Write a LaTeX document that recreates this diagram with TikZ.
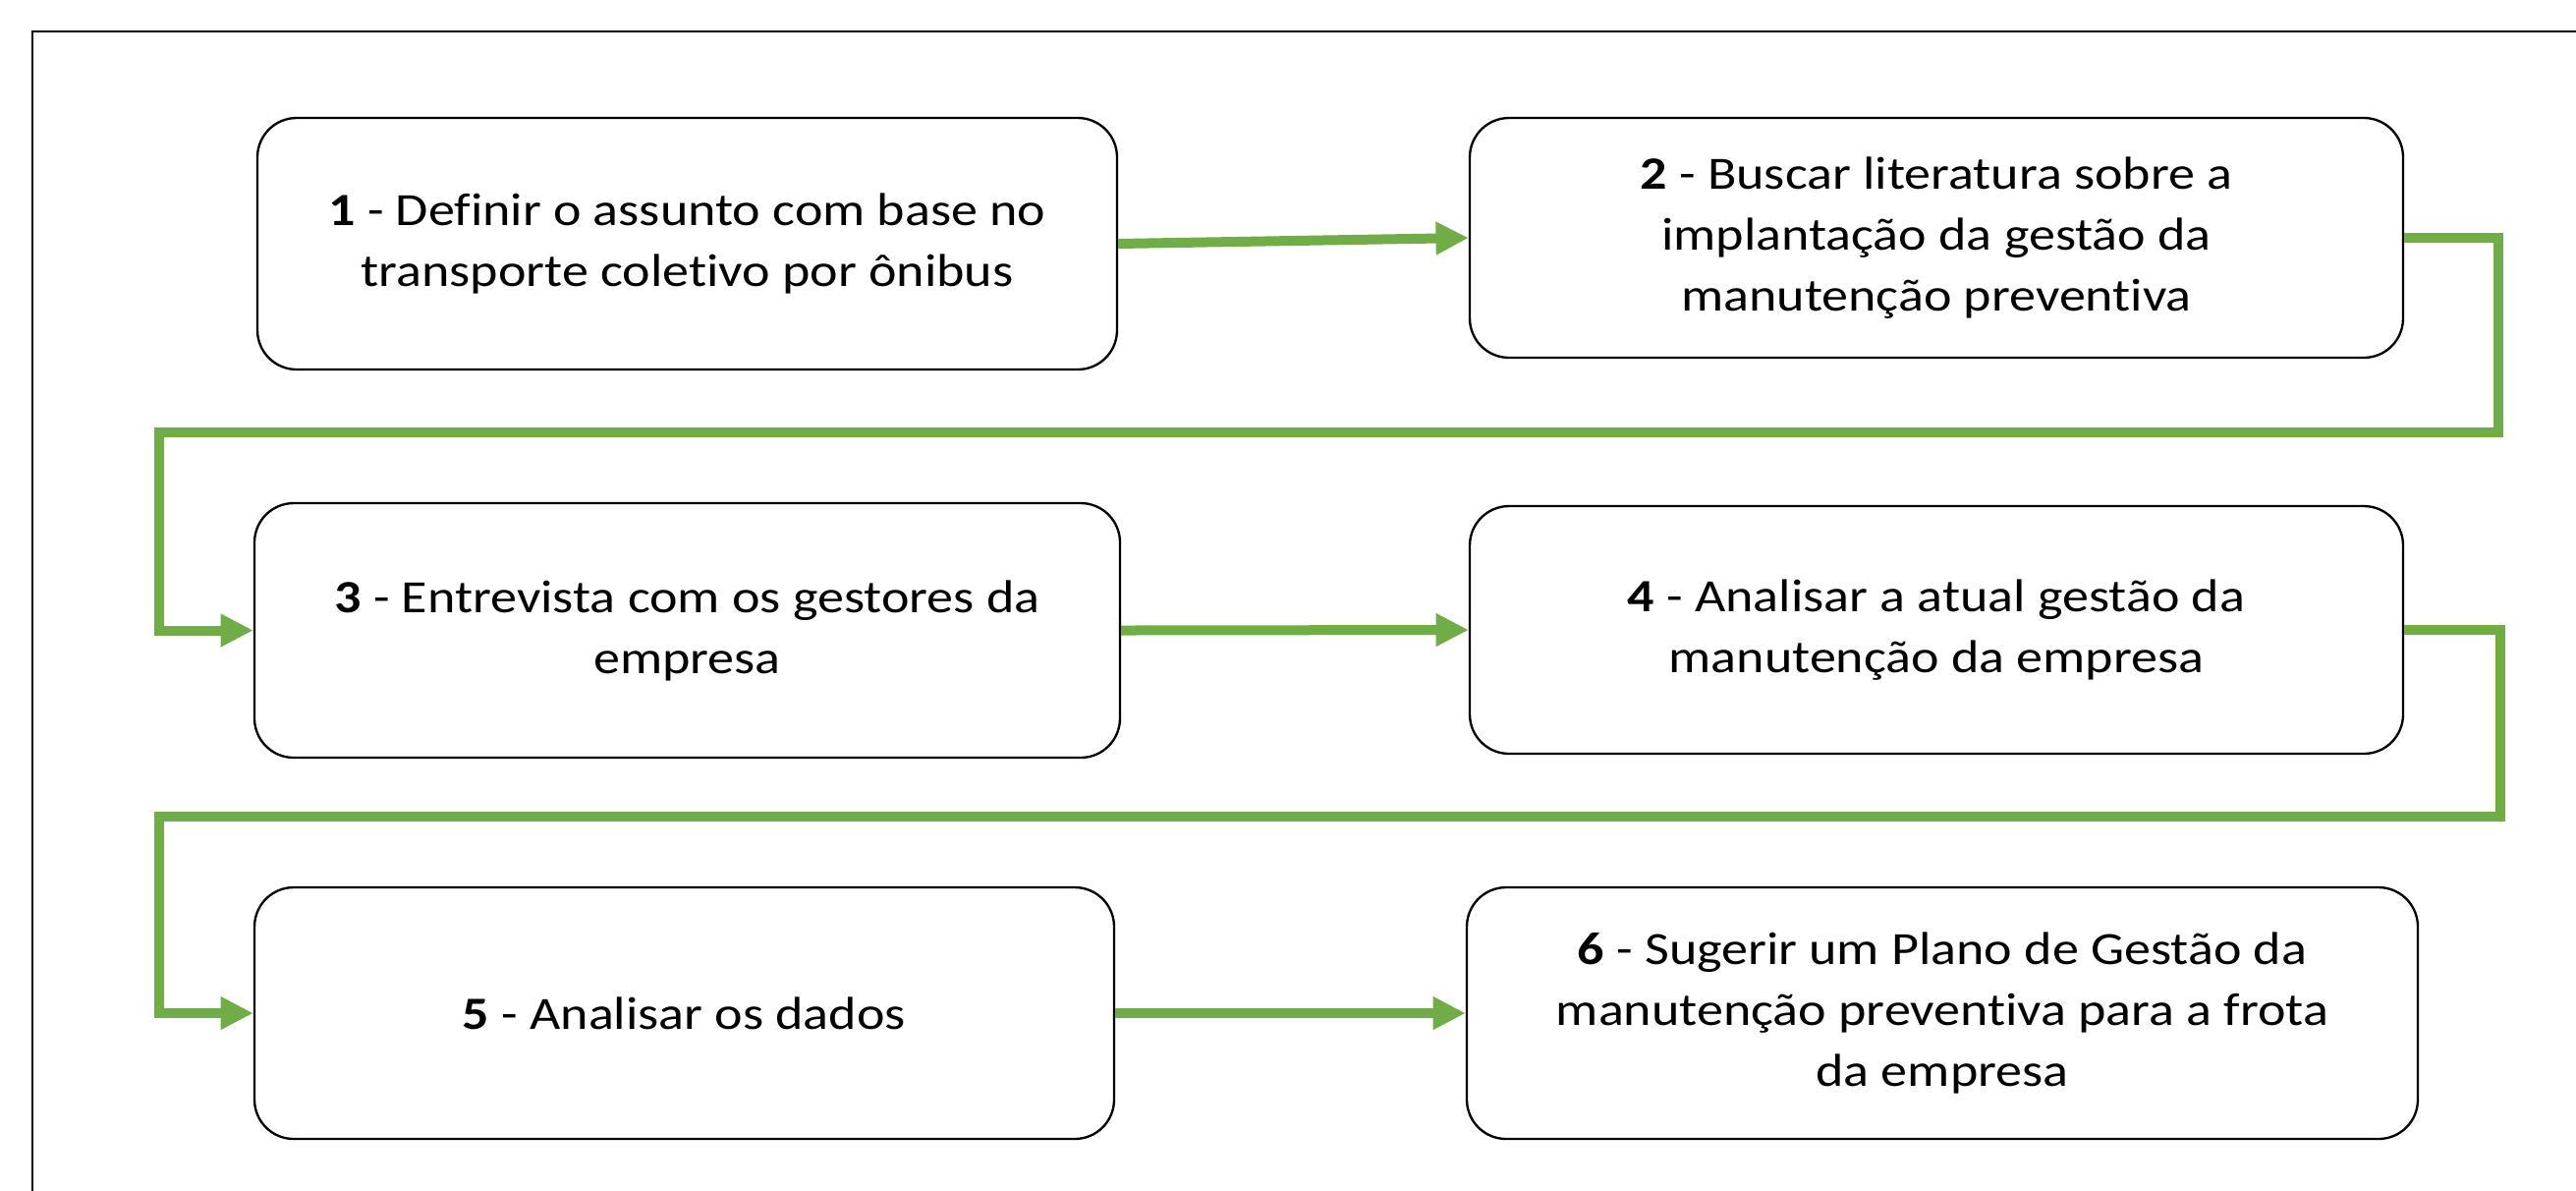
\documentclass[tikz,border=0pt]{standalone}
\usepackage{fontspec}
\setmainfont{Carlito}[FakeStretch=1.15, RawFeature=-liga]
\usetikzlibrary{arrows.meta}
\definecolor{flowgreen}{HTML}{70AD47}
\tikzset{
  stepbox/.style={draw=black, line width=0.7pt, rounded corners=12pt, fill=white,
    align=center, inner sep=0pt, font=\fontsize{14.1pt}{18.6pt}\selectfont},
  flow/.style={draw=flowgreen, line width=3pt, -{Triangle[length=10pt,width=9.5pt]}},
}
\begin{document}
\begin{tikzpicture}[x=0.3pt,y=-0.3pt]
\useasboundingbox (0,0) rectangle (2622,1211);
\fill[white] (0,0) rectangle (2622,1211);
\draw[line width=0.8pt, black] (33,1215) -- (33,32) -- (2626,32);

\node[stepbox, minimum width=262.5pt, minimum height=76.8pt] (b1) at (699.5,248)
  {\textbf{1} - Definir o assunto com base no\\transporte coletivo por ônibus};
\node[stepbox, minimum width=285pt, minimum height=73.2pt] (b2) at (1971,242)
  {\textbf{2} - Buscar literatura sobre a\\implantação da gestão da\\manutenção preventiva};
\node[stepbox, minimum width=264.3pt, minimum height=77.7pt] (b3) at (699.5,641.5)
  {\textbf{3} - Entrevista com os gestores da\\empresa};
\node[stepbox, minimum width=285pt, minimum height=75.6pt] (b4) at (1971,641)
  {\textbf{4} - Analisar a atual gestão da\\manutenção da empresa};
\node[stepbox, minimum width=262.5pt, minimum height=76.8pt] (b5) at (696.5,1031)
  {\textbf{5} - Analisar os dados};
\node[stepbox, minimum width=290.4pt, minimum height=76.8pt] (b6) at (1977,1031)
  {\textbf{6} - Sugerir um Plano de Gestão da\\manutenção preventiva para a frota\\da empresa};

\coordinate (r1) at (2543,440);
\coordinate (l1) at (162,440);
\coordinate (r2) at (2545,831);
\coordinate (l2) at (162,831);

\draw[flow] (b1.east) -- (b2.west);
\draw[flow] (b2.east) -| (r1) -- (l1) |- (b3.west);
\draw[flow] (b3.east) -- (b4.west);
\draw[flow] (b4.east) -| (r2) -- (l2) |- (b5.west);
\draw[flow] (b5.east) -- (b6.west);
\end{tikzpicture}
\end{document}
